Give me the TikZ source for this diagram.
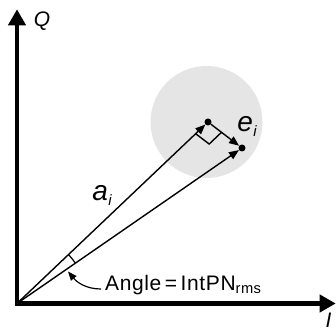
\documentclass[tikz,border=0pt]{standalone}
\usepackage{fontspec}
\setmainfont{Liberation Sans}
\usetikzlibrary{arrows.meta,calc}
\definecolor{blob}{RGB}{229,229,229}
\newcommand\vlab[2]{\fontsize{28}{30}\selectfont\itshape #1\kern0.5pt\raisebox{-5pt}{\fontsize{15}{16}\selectfont #2}}
\begin{document}
\begin{tikzpicture}[x=1pt,y=1pt,
    axis/.style={line width=4.5pt,line cap=rect,-{Triangle[length=16pt,width=17pt]}},
    vec/.style={line width=1.4pt,-{Triangle[length=10pt,width=8pt]}},
    dot/.style={circle,fill=black,inner sep=0pt,minimum size=7pt},
    lbl/.style={inner sep=0pt,font=\fontsize{21}{24}\selectfont}]
    \useasboundingbox (0,0) rectangle (336,331);
    \fill[blob] (206.5,209) circle[radius=56];
    \coordinate (O) at (17,27.5);
    \coordinate (qtip) at (17,321.7);
    \coordinate (itip) at (335.7,27.5);
    \node[dot] (d1) at (208,209) {};
    \node[dot] (d2) at (242,183) {};
    \draw[axis] (O) -- (qtip);
    \draw[axis] (O) -- (itip);
    \node[lbl,font=\fontsize{21}{24}\selectfont\itshape] (q) at (42,310) {Q};
    \node[lbl,font=\fontsize{21}{24}\selectfont\itshape,anchor=north] (i) at (328.5,18.5) {I};
    \draw[vec] (O) -- (d1);
    \draw[vec] (O) -- (d2);
    \draw[vec] (d1) -- (d2);
    \coordinate (m1) at ($(d1)!17pt!(O)$);
    \coordinate (m3) at ($(d1)!17pt!(d2)$);
    \draw[line width=1.4pt] (m1) -- ($(m1)+(m3)-(d1)$) -- (m3);
    \node[inner sep=0pt] (a) at (102,136) {\vlab{a}{i}};
    \node[inner sep=0pt] (e) at (247,205) {\vlab{e}{i}};
    \draw[line width=1.2pt] (O) ++(34.65:71) arc[start angle=34.65,end angle=43.5,radius=71];
    \node[lbl,anchor=base west] (ang) at (105,41) {\addfontfeature{LetterSpace=3}Angle\,=\,IntPN\textsubscript{rms}};
    \coordinate (tip) at (68,59.5);
    \draw[line width=1.2pt,-{Triangle[length=9pt,width=7pt]}] ([xshift=-4pt,yshift=1pt]ang.base west) to[out=180,in=-50] (tip);
\end{tikzpicture}
\end{document}
